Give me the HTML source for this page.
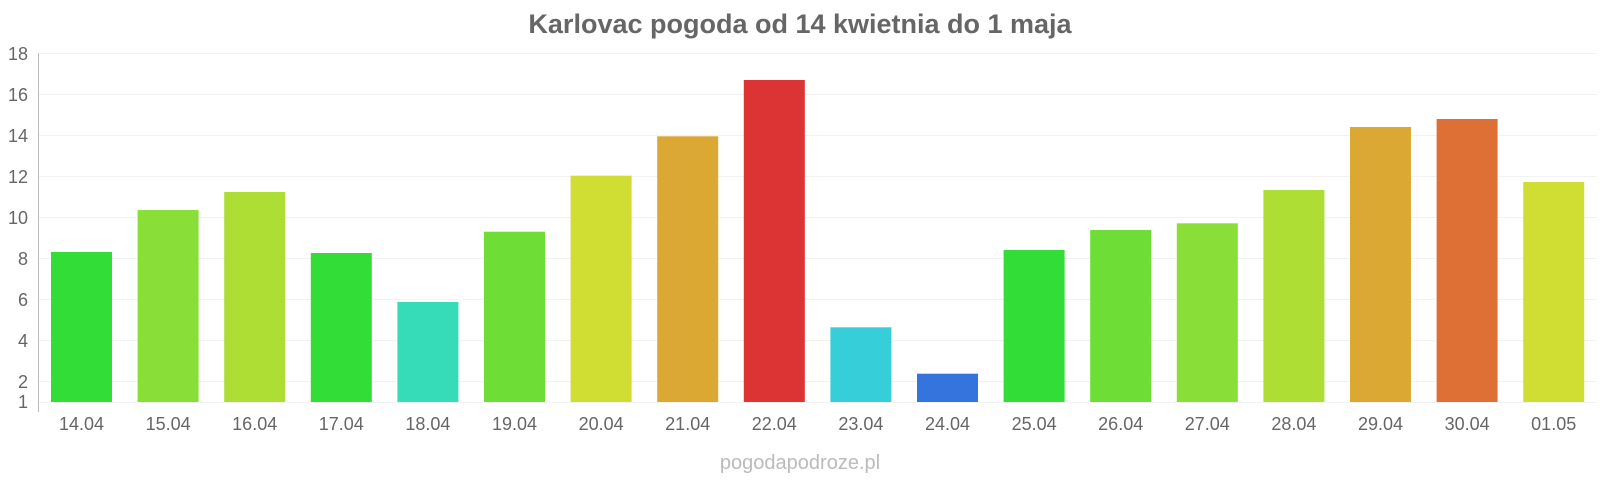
<!DOCTYPE html>
<html><head><meta charset="utf-8"><style>
html,body{margin:0;padding:0;background:#fff;}
svg{display:block;font-family:"Liberation Sans",sans-serif;}
</style></head><body>
<svg width="1600" height="480" viewBox="0 0 1600 480">
<text x="800" y="33" text-anchor="middle" font-size="27" font-weight="bold" fill="#666">Karlovac pogoda od 14 kwietnia do 1 maja</text>
<g stroke="#f2f2f2" stroke-width="1">
<line x1="38" x2="1597" y1="53.5" y2="53.5"/>
<line x1="38" x2="1597" y1="94.5" y2="94.5"/>
<line x1="38" x2="1597" y1="135.5" y2="135.5"/>
<line x1="38" x2="1597" y1="176.5" y2="176.5"/>
<line x1="38" x2="1597" y1="217.5" y2="217.5"/>
<line x1="38" x2="1597" y1="258.5" y2="258.5"/>
<line x1="38" x2="1597" y1="299.5" y2="299.5"/>
<line x1="38" x2="1597" y1="340.5" y2="340.5"/>
<line x1="38" x2="1597" y1="381.5" y2="381.5"/>
<line x1="38" x2="1597" y1="402.5" y2="402.5"/>
</g>
<line x1="38.5" x2="38.5" y1="53" y2="412" stroke="#bbb"/>
<g font-size="18" fill="#666" text-anchor="end">
<text x="28" y="60">18</text><text x="28" y="101">16</text><text x="28" y="142">14</text>
<text x="28" y="183">12</text><text x="28" y="224">10</text><text x="28" y="265">8</text>
<text x="28" y="306">6</text><text x="28" y="347">4</text><text x="28" y="388">2</text>
<text x="28" y="408">1</text>
</g>
<g>
<rect x="51" y="252" width="61" height="150" fill="#33dd38"/>
<rect x="137.6" y="210" width="61" height="192" fill="#8ade38"/>
<rect x="224.2" y="192" width="61" height="210" fill="#aede34"/>
<rect x="310.8" y="253" width="61" height="149" fill="#33dd38"/>
<rect x="397.4" y="302" width="61" height="100" fill="#36dbb8"/>
<rect x="484" y="231.7" width="61" height="170.3" fill="#6ede36"/>
<rect x="570.6" y="175.7" width="61" height="226.3" fill="#d0dd32"/>
<rect x="657.2" y="136.3" width="61" height="265.7" fill="#dca834"/>
<rect x="743.8" y="80" width="61" height="322" fill="#dc3434"/>
<rect x="830.4" y="327.3" width="61" height="74.7" fill="#36ced8"/>
<rect x="917" y="373.7" width="61" height="28.3" fill="#3474dc"/>
<rect x="1003.6" y="250" width="61" height="152" fill="#33dd38"/>
<rect x="1090.2" y="230" width="61" height="172" fill="#6ede36"/>
<rect x="1176.8" y="223.3" width="61" height="178.7" fill="#8ade38"/>
<rect x="1263.4" y="190" width="61" height="212" fill="#aede34"/>
<rect x="1350" y="127" width="61" height="275" fill="#dca834"/>
<rect x="1436.6" y="119" width="61" height="283" fill="#de7036"/>
<rect x="1523.2" y="182" width="61" height="220" fill="#d0dd32"/>
</g>
<g font-size="18" fill="#666" text-anchor="middle">
<text x="81.5" y="430">14.04</text><text x="168.1" y="430">15.04</text><text x="254.7" y="430">16.04</text>
<text x="341.3" y="430">17.04</text><text x="427.9" y="430">18.04</text><text x="514.5" y="430">19.04</text>
<text x="601.1" y="430">20.04</text><text x="687.7" y="430">21.04</text><text x="774.3" y="430">22.04</text>
<text x="860.9" y="430">23.04</text><text x="947.5" y="430">24.04</text><text x="1034.1" y="430">25.04</text>
<text x="1120.7" y="430">26.04</text><text x="1207.3" y="430">27.04</text><text x="1293.9" y="430">28.04</text>
<text x="1380.5" y="430">29.04</text><text x="1467.1" y="430">30.04</text><text x="1553.7" y="430">01.05</text>
</g>
<text x="800" y="469" text-anchor="middle" font-size="20" fill="#bbb">pogodapodroze.pl</text>
</svg>
</body></html>
